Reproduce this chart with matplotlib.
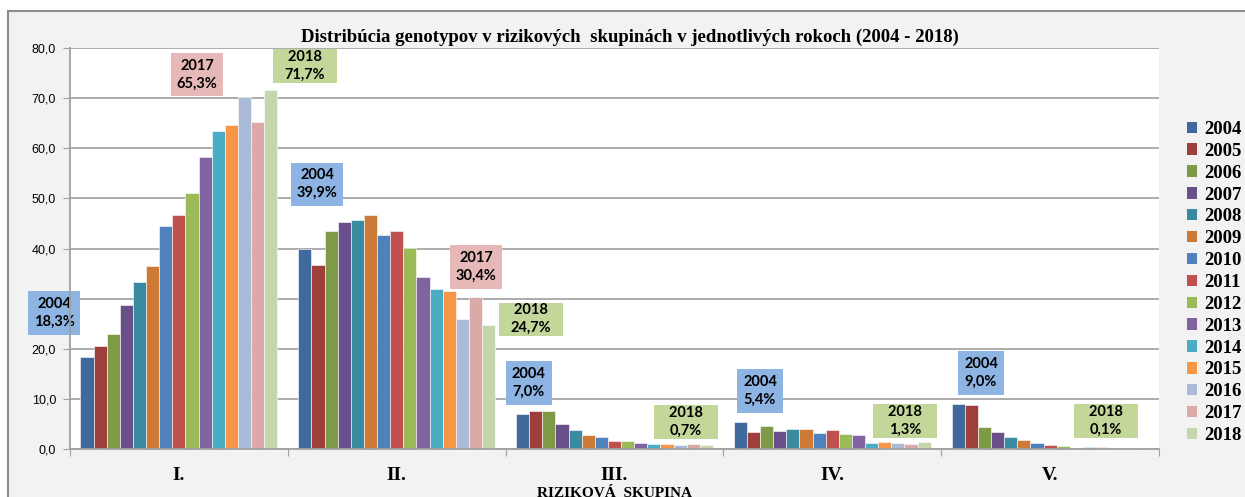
import numpy as np
import matplotlib
matplotlib.use('Agg')
import matplotlib.pyplot as plt
from matplotlib.patches import Patch, Rectangle

groups = ['I.', 'II.', 'III.', 'IV.', 'V.']
years = [str(y) for y in range(2004, 2019)]

# share (%) per year 2004..2018 in each risk group
grp_I = [18.3, 20.5, 23.0, 28.7, 33.3, 36.5, 44.5, 46.6, 51.1, 58.3, 63.4, 64.7, 70.3, 65.3, 71.7]
grp_II = [39.9, 36.8, 43.4, 45.2, 45.7, 46.6, 42.7, 43.5, 40.1, 34.3, 31.9, 31.5, 25.9, 30.4, 24.7]
grp_III = [7.0, 7.5, 7.5, 4.9, 3.7, 2.8, 2.3, 1.5, 1.5, 1.2, 0.9, 0.9, 0.7, 0.9, 0.7]
grp_IV = [5.4, 3.3, 4.5, 3.5, 3.9, 4.0, 3.2, 3.8, 3.0, 2.7, 1.2, 1.4, 1.2, 1.0, 1.3]
grp_V = [9.0, 8.7, 4.3, 3.3, 2.3, 1.7, 1.2, 0.7, 0.5, 0.2, 0.35, 0.35, 0.1, 0.1, 0.1]
data = np.array([grp_I, grp_II, grp_III, grp_IV, grp_V])

colors = ['#40699c', '#9e3f3c', '#7e9a47', '#69508a', '#3a8ba2', '#cc7a35',
          '#4f81bd', '#c0504d', '#9bbb59', '#8064a2', '#4bacc6', '#f79646',
          '#aabad7', '#dba9a8', '#c6d6ac']

# callouts: (group index, year, text x, text y, box colour)
callouts = [
    (0, '2004', -0.573, 27.1, '#8db4e2'),
    (0, '2017', 0.083, 74.7, '#e6b9b8'),
    (0, '2018', 0.579, 76.4, '#c4d79b'),
    (1, '2004', 0.634, 52.8, '#8db4e2'),
    (1, '2017', 1.364, 36.3, '#e6b9b8'),
    (1, '2018', 1.617, 25.9, '#c4d79b'),
    (2, '2004', 1.607, 13.2, '#8db4e2'),
    (2, '2018', 2.328, 5.4, '#c4d79b'),
    (3, '2004', 2.668, 11.6, '#8db4e2'),
    (3, '2018', 3.334, 5.6, '#c4d79b'),
    (4, '2004', 3.683, 15.2, '#8db4e2'),
    (4, '2018', 4.257, 5.6, '#c4d79b'),
]

fig = plt.figure(figsize=(12.45, 4.97), dpi=100, facecolor='white')
fig.patches.append(Rectangle((8/1245, -0.01), 1.0, 1 - 11/497 + 0.01, transform=fig.transFigure,
                             facecolor='#f2f2f2', edgecolor='#8c8c8c', lw=1.5, zorder=-10))
ax = fig.add_axes([70/1245, 48/497, (1159-70)/1245, (449-48)/497])
ax.set_facecolor('white')

n = len(years)
w = 0.904 / n
x = np.arange(len(groups))
for j, yr in enumerate(years):
    ax.bar(x - 0.452 + (j + 0.5) * w, data[:, j], width=w, color=colors[j],
           edgecolor='white', linewidth=0.4, label=yr, zorder=2)

ax.set_xlim(-0.5, 4.5)
ax.set_ylim(0, 80)
ax.set_yticks(np.arange(0, 81, 10))
ax.set_yticklabels([f'{v:.1f}'.replace('.', ',') for v in np.arange(0, 81, 10)],
                   fontsize=9, family='Liberation Sans')
ax.yaxis.grid(True, color='#a6a6a6', lw=1.3)
ax.set_axisbelow(True)
ax.tick_params(axis='y', length=5, color='#a0a0a0', pad=5)

ax.set_xticks(np.arange(-0.5, 5, 1))
ax.set_xticklabels([])
ax.tick_params(axis='x', which='major', length=5, color='#a0a0a0')
ax.set_xticks(x, minor=True)
ax.set_xticklabels(groups, minor=True, fontsize=14, fontweight='bold', family='Liberation Serif')
ax.tick_params(axis='x', which='minor', length=0, pad=13)
ax.set_xlabel('RIZIKOVÁ  SKUPINA', fontsize=11, fontweight='bold', family='Liberation Serif', labelpad=2)

for s in ['top', 'right']:
    ax.spines[s].set_visible(False)
for s in ['left', 'bottom']:
    ax.spines[s].set_color('#a0a0a0')
    ax.spines[s].set_linewidth(1.3)

# year/value callouts (drawn under the axis so tick labels stay on top, as in Excel)
for gi, yr, tx, ty, bc in callouts:
    val = data[gi, years.index(yr)]
    txt = f'{yr}\n{val:.1f}%'.replace('.', ',')
    pad = 'square,pad=0.4' if bc != '#c4d79b' else 'square,pad=0.05'
    if bc == '#c4d79b':
        txt = f'    {yr}    \n{val:.1f}%'.replace('.', ',')
    ax.text(tx, ty, txt, ha='center', va='center', fontsize=10.5, fontweight='bold',
            family='Lato', linespacing=1.35, zorder=2.4, clip_on=False,
            bbox=dict(boxstyle=pad, facecolor=bc, edgecolor='none'))

fig.text(630/1245, 1 - 37/497, 'Distribúcia genotypov v rizikových  skupinách v jednotlivých rokoch (2004 - 2018)',
         ha='center', va='center', fontsize=13.5, fontweight='bold', family='Liberation Serif')

handles = [Patch(facecolor=c) for c in colors]
fig.legend(handles, years, loc='center left', bbox_to_anchor=(1187/1245, 1 - 282.5/497),
           frameon=False, prop={'family': 'Liberation Serif', 'weight': 'bold', 'size': 13.5},
           handlelength=0.55, handleheight=0.55, handletextpad=0.35, labelspacing=0.26,
           borderpad=0, borderaxespad=0)

fig.savefig('out.png', dpi=100, facecolor=fig.get_facecolor())
